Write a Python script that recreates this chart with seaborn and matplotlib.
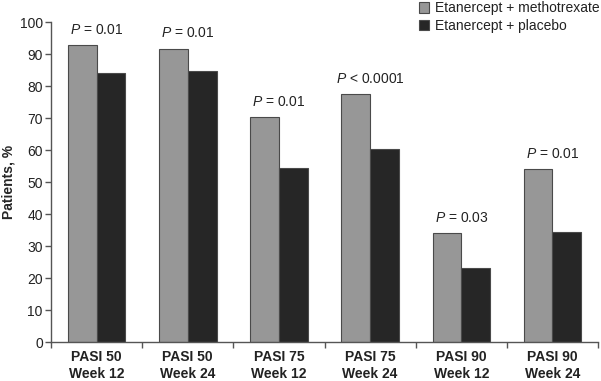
import numpy as np
import pandas as pd
import matplotlib
matplotlib.use("Agg")
import matplotlib.pyplot as plt
import seaborn as sns

# 数据
categories = ["PASI 50\nWeek 12", "PASI 50\nWeek 24", "PASI 75\nWeek 12",
              "PASI 75\nWeek 24", "PASI 90\nWeek 12", "PASI 90\nWeek 24"]
groups = ["Etanercept + methotrexate", "Etanercept + placebo"]
mtx_values = [92.7, 91.7, 70.3, 77.5, 34.1, 54.1]
placebo_values = [84.0, 84.8, 54.5, 60.5, 23.3, 34.4]
p_labels = ["= 0.01", "= 0.01", "= 0.01", "< 0.0001", "= 0.03", "= 0.01"]

df = pd.DataFrame({
    "category": categories * 2,
    "group": [groups[0]] * 6 + [groups[1]] * 6,
    "value": mtx_values + placebo_values,
})

sns.set_style("white")
plt.rcParams["font.family"] = ["Liberation Sans", "DejaVu Sans"]
plt.rcParams["mathtext.fontset"] = "custom"
plt.rcParams["mathtext.it"] = "Liberation Sans:italic"
plt.rcParams["mathtext.rm"] = "Liberation Sans"

fig = plt.figure(figsize=(6.01, 3.81), dpi=100)
ax = fig.add_axes([0.085, 0.102, 0.910, 0.840])

sns.barplot(data=df, x="category", y="value", hue="group",
            palette=["#979797", "#262626"], width=0.63, gap=0,
            edgecolor="#4a4a4a", linewidth=0.8, ax=ax)

# P 值标注
for i, lab in enumerate(p_labels):
    ax.text(i, mtx_values[i] + 2.6, r"$\it{P}$ " + lab, ha="center", va="bottom",
            fontsize=10, color="#222222")

ax.set_xlim(-0.5, 5.5)
ax.set_ylim(0, 100)
ax.set_yticks(np.arange(0, 101, 10))
ax.set_ylabel("Patients, %", fontsize=10, fontweight="bold", labelpad=3)
ax.set_xlabel("")

for s in ["top", "right"]:
    ax.spines[s].set_visible(False)
for s in ["left", "bottom"]:
    ax.spines[s].set_color("#555555")
    ax.spines[s].set_linewidth(1.0)

ax.tick_params(axis="y", left=True, length=4, width=1, color="#555555",
               labelsize=10, labelcolor="#222222", pad=2)
ax.set_xticks(np.arange(-0.5, 6, 1), minor=True)
ax.tick_params(axis="x", which="major", length=0, labelsize=10, pad=6)
ax.tick_params(axis="x", which="minor", bottom=True, length=4, width=1,
               color="#555555")
for t in ax.get_xticklabels():
    t.set_fontweight("bold")
    t.set_color("#222222")

leg = ax.legend(loc="upper right", bbox_to_anchor=(1.0, 1.0),
                bbox_transform=fig.transFigure, frameon=False,
                fontsize=10, handlelength=0.75, handleheight=0.75,
                handletextpad=0.4, labelspacing=0.25, borderaxespad=0,
                borderpad=0.1)
for t in leg.get_texts():
    t.set_color("#222222")

plt.savefig("out.png", dpi=100)
